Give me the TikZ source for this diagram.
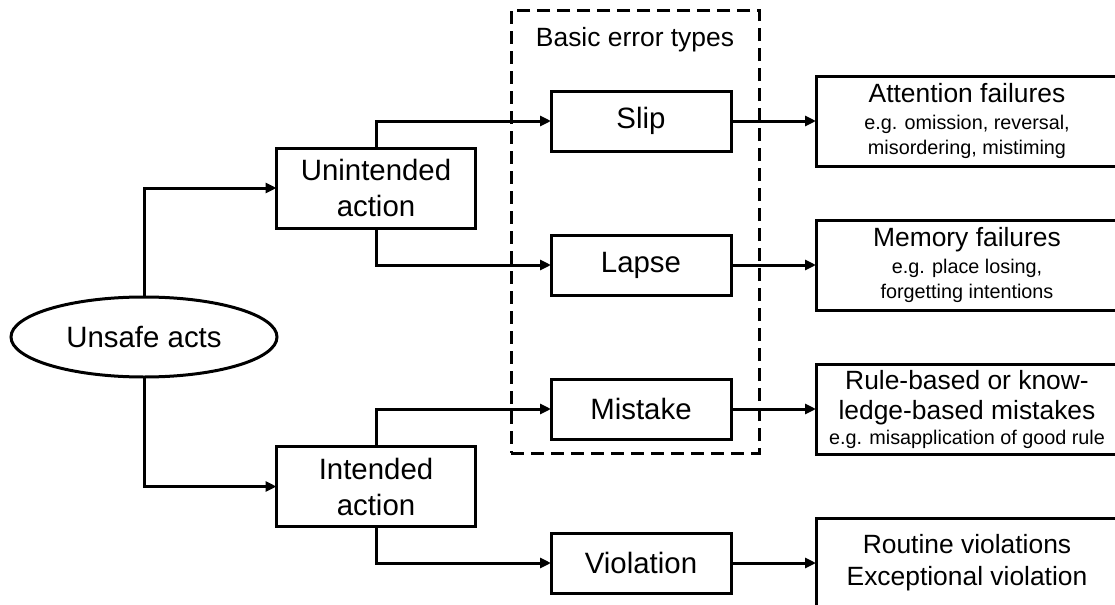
\documentclass[tikz,border=0pt]{standalone}
\usepackage{fontspec}
\setmainfont{Liberation Sans}
\usetikzlibrary{shapes.geometric,positioning,arrows.meta}

\newcommand{\bigtxt}{\fontsize{14.7}{18}\selectfont}
\newcommand{\medtxt}{\fontsize{13.2}{15}\selectfont}
\newcommand{\smalltxt}{\fontsize{9.9}{12.5}\selectfont}

\begin{document}
\begin{tikzpicture}[x=0.5pt,y=-0.5pt,->,>={Triangle[length=5.5pt,width=5pt]},line width=1.5pt,
  act/.style={draw,rectangle,minimum width=99.5pt,minimum height=40pt,inner sep=0pt,outer sep=0pt,align=center,font=\bigtxt},
  errtype/.style={draw,rectangle,minimum width=90pt,minimum height=30pt,inner sep=0pt,outer sep=0pt,font=\bigtxt},
  failure/.style={draw,rectangle,minimum width=151pt,minimum height=45pt,inner sep=0pt,outer sep=0pt,align=center,font=\smalltxt}]

\useasboundingbox (0,0) rectangle (1115,605);
\clip (0,0) rectangle (1115,605);

\node[draw,ellipse,minimum width=133pt,minimum height=40pt,inner sep=0pt,outer sep=0pt,font=\bigtxt] (unsafe) at (144,337) {Unsafe acts};

\node[act] (unint) at (376,188) {Unintended\\action};
\node[act] (int) at (376,486.5) {Intended\\action};

\node[errtype] (slip) at (641,121) {Slip};
\node[errtype] (lapse) at (641,265) {Lapse};
\node[errtype] (mistake) at (641,409) {Mistake};
\node[errtype] (violation) at (641,563) {Violation};

\node[failure,right=42.5pt of slip] (attention) {{\medtxt Attention failures}\\[1pt]e.g. omission, reversal,\\misordering, mistiming};
\node[failure,right=42.5pt of lapse] (memory) {{\medtxt Memory failures}\\[1pt]e.g. place losing,\\forgetting intentions};
\node[failure,right=42.5pt of mistake] (rulebased) {{\medtxt Rule-based or know-}\\[2.5pt]{\medtxt ledge-based mistakes}\\e.g. misapplication of good rule};
\node[failure,right=42.5pt of violation,font=\medtxt] (routine) {Routine violations\\[1pt]Exceptional violation};

% basic error types
\node[draw,dash pattern=on 6.5pt off 3.5pt,minimum width=124pt,minimum height=221.5pt,inner sep=0pt,outer sep=0pt] (types) at (635,231.5) {};
\node[below=4.5pt of types.north,font=\medtxt] (typeslabel) {Basic error types};

\draw (unsafe) |- (unint);
\draw (unsafe) |- (int);
\draw (unint) |- (slip);
\draw (unint) |- (lapse);
\draw (int) |- (mistake);
\draw (int) |- (violation);

\draw (slip) -- (attention);
\draw (lapse) -- (memory);
\draw (mistake) -- (rulebased);
\draw (violation) -- (routine);
\end{tikzpicture}
\end{document}
